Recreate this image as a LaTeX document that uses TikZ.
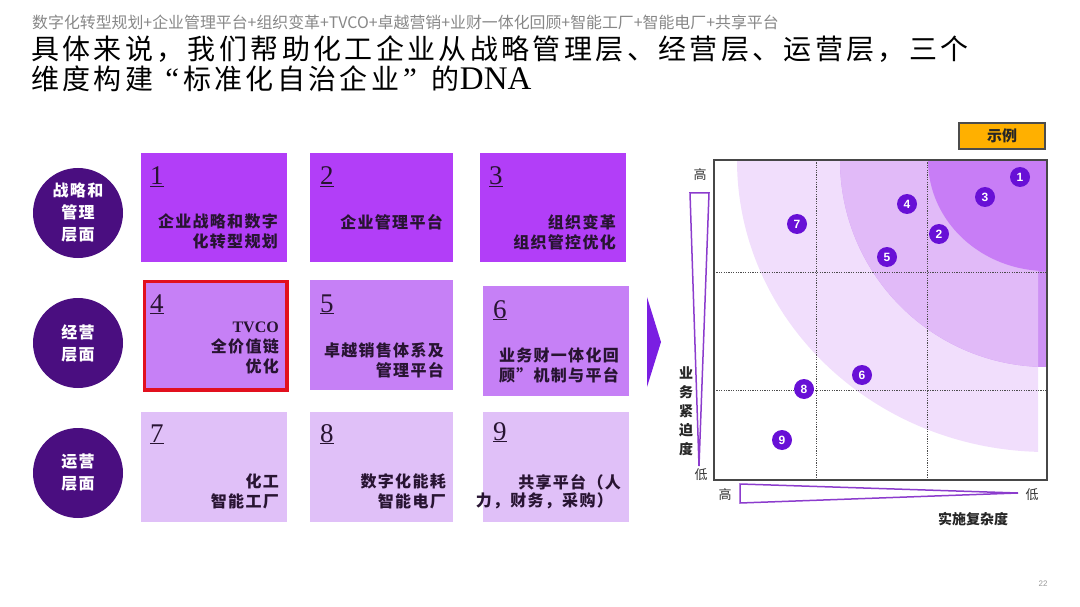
\documentclass[tikz,border=0pt]{standalone}
\usepackage{fontspec}
\setmainfont{Liberation Serif}
\newfontfamily\cjk{Noto Sans CJK SC}
\newfontfamily\cjksp[LetterSpace=8]{Noto Sans CJK SC}
\newfontfamily\cjkT[LetterSpace=12]{Noto Sans CJK SC}
\newfontfamily\numsans{Liberation Sans}
\definecolor{rowA}{RGB}{178,62,248}
\definecolor{rowB}{RGB}{198,128,246}
\definecolor{rowC}{RGB}{224,192,248}
\definecolor{lvl}{RGB}{74,14,128}
\definecolor{bub}{RGB}{104,16,214}
\definecolor{ringL}{RGB}{241,222,252}
\definecolor{ringM}{RGB}{225,186,248}
\definecolor{ringS}{RGB}{205,145,244}
\definecolor{ringD}{RGB}{200,125,246}
\definecolor{tri}{RGB}{140,60,205}
\definecolor{arrowc}{RGB}{122,30,226}
\definecolor{tagc}{RGB}{255,176,0}
\definecolor{hdr}{RGB}{135,135,135}
\definecolor{txt}{RGB}{40,20,50}
\definecolor{redb}{RGB}{226,16,30}
\tikzset{
 box/.style={rectangle, draw=none, inner sep=0, anchor=north west},
 boxtext/.style={inner sep=0, align=right, text=txt, font=\cjksp\bfseries\fontsize{16}{20}\selectfont},
 numlab/.style={inner sep=0, anchor=base west, font=\fontsize{27}{27}\selectfont, text=txt},
 lvlc/.style={circle, fill=lvl, minimum size=90, inner sep=0, text=white, align=center, font=\cjksp\bfseries\fontsize{16}{22}\selectfont},
 bubc/.style={circle, fill=bub, minimum size=20, inner sep=0, text=white, font=\numsans\bfseries\fontsize{12}{12}\selectfont},
 axlab/.style={inner sep=0, font=\cjk\fontsize{13}{13}\selectfont, text=black!80},
 gridl/.style={draw=black!70, line width=0.9, dash pattern=on 1.2 off 1.2},
 tril/.style={draw=tri, line width=1.5, fill=white},
}
\begin{document}
\begin{tikzpicture}[x=1pt,y=-1pt]
\useasboundingbox (0,0) rectangle (1080,607);
% header and title
\node[anchor=west, inner sep=0, text=hdr, font=\cjk\fontsize{15.9}{15.9}\selectfont] (hdr) at (32,22) {数字化转型规划+企业管理平台+组织变革+TVCO+卓越营销+业财一体化回顾+智能工厂+智能电厂+共享平台};
\node[anchor=west, inner sep=0, font=\cjkT\fontsize{28}{28}\selectfont] (t1) at (31,49) {具体来说，我们帮助化工企业从战略管理层、经营层、运营层，三个};
\node[anchor=west, inner sep=0, font=\cjkT\fontsize{28}{28}\selectfont] (t2) at (31,79) {维度构建\hspace{12pt}{\fontspec{Liberation Serif}\fontsize{31}{31}\selectfont“}\hspace{4pt}标准化自治企业\hspace{4pt}{\fontspec{Liberation Serif}\fontsize{31}{31}\selectfont”}\hspace{15pt}的{\fontspec{Liberation Serif}\fontsize{33}{33}\selectfont DNA}};
% level circles
\node[lvlc] (c1) at (78,213) {战略和\\管理\\层面};
\node[lvlc] (c2) at (78,343) {经营\\层面};
\node[lvlc] (c3) at (78,473) {运营\\层面};
% boxes
\node[box, fill=rowA, minimum width=146, minimum height=109] (b1) at (141,153) {};
\node[box, fill=rowA, minimum width=143, minimum height=109] (b2) at (310,153) {};
\node[box, fill=rowA, minimum width=146, minimum height=109] (b3) at (480,153) {};
\node[box, fill=rowB, draw=redb, line width=3.5, minimum width=142.5, minimum height=108.5] (b4) at (142.75,279.75) {};
\node[box, fill=rowB, minimum width=143, minimum height=110] (b5) at (310,280) {};
\node[box, fill=rowB, minimum width=146, minimum height=110] (b6) at (483,286) {};
\node[box, fill=rowC, minimum width=146, minimum height=110] (b7) at (141,412) {};
\node[box, fill=rowC, minimum width=143, minimum height=110] (b8) at (310,412) {};
\node[box, fill=rowC, minimum width=146, minimum height=110] (b9) at (483,412) {};
% numbers
\node[numlab] (n1) at (150,185) {\underline{1}};
\node[numlab] (n2) at (320,185) {\underline{2}};
\node[numlab] (n3) at (489,185) {\underline{3}};
\node[numlab] (n4) at (150,312) {\underline{4}};
\node[numlab] (n5) at (320,312) {\underline{5}};
\node[numlab] (n6) at (493,318) {\underline{6}};
\node[numlab] (n7) at (150,442) {\underline{7}};
\node[numlab] (n8) at (320,442) {\underline{8}};
\node[numlab] (n9) at (493,440) {\underline{9}};
% box texts
\node[boxtext, anchor=east] (x1) at (278,231) {企业战略和数字\\化转型规划};
\node[boxtext, anchor=east] (x2) at (443,222) {企业管理平台};
\node[boxtext, anchor=east] (x3) at (616,232) {组织变革\\组织管控优化};
\node[boxtext, anchor=east] (x4) at (279,348) {{\fontspec{Liberation Serif}TVCO}\\全价值链\\优化};
\node[boxtext, anchor=east] (x5) at (444,360) {卓越销售体系及\\管理平台};
\node[boxtext, anchor=east] (x6) at (619,365) {业务财一体化回\\顾”机制与平台};
\node[boxtext, anchor=east] (x7) at (279,491) {化工\\智能工厂};
\node[boxtext, anchor=east] (x8) at (446,491) {数字化能耗\\智能电厂};
\node[boxtext, anchor=east] (x9a) at (621,482) {共享平台（人};
\node[boxtext, anchor=east] (x9b) at (613,501) {力，财务，采购）};
% arrow
\fill[arrowc] (647,297) -- (661,342) -- (647,387) -- cycle;
% chart rings
\begin{scope}
\clip (714,160) rectangle (1038,480);
\fill[ringL] (1047,160) ellipse [x radius=310, y radius=292];
\end{scope}
\begin{scope}
\clip (714,160) rectangle (1047,480);
\fill[ringS] (1047,160) circle [radius=207];
\end{scope}
\begin{scope}
\clip (714,160) rectangle (1038,480);
\fill[ringM] (1047,160) circle [radius=207];
\end{scope}
\begin{scope}
\clip (714,160) rectangle (1047,480);
\fill[ringD] (1047,160) ellipse [x radius=119, y radius=111];
\end{scope}
% grid
\coordinate (gv1t) at (816,160); \coordinate (gv1b) at (816,480);
\coordinate (gv2t) at (927,160); \coordinate (gv2b) at (927,480);
\coordinate (gh1l) at (714,272); \coordinate (gh1r) at (1047,272);
\coordinate (gh2l) at (714,390); \coordinate (gh2r) at (1047,390);
\draw[gridl] (gv1t) -- (gv1b);
\draw[gridl] (gv2t) -- (gv2b);
\draw[gridl] (gh1l) -- (gh1r);
\draw[gridl] (gh2l) -- (gh2r);
\draw[line width=2.5, draw=black!72] (714,160) rectangle (1047,480);
% bubbles
\node[bubc] (p1) at (1020,177) {1};
\node[bubc] (p2) at (939,234) {2};
\node[bubc] (p3) at (985,197) {3};
\node[bubc] (p4) at (907,204) {4};
\node[bubc] (p5) at (887,257) {5};
\node[bubc] (p6) at (862,375) {6};
\node[bubc] (p7) at (797,224) {7};
\node[bubc] (p8) at (804,389) {8};
\node[bubc] (p9) at (782,440) {9};
% axes
\draw[tril] (690,193) -- (709,193) -- (699,466) -- cycle;
\draw[tril] (740,484) -- (740,503) -- (1018,493) -- cycle;
\node[axlab] (vh) at (700,175) {高};
\node[axlab] (vl) at (701,475) {低};
\node[axlab] (hh) at (725,495) {高};
\node[axlab] (hl) at (1032,495) {低};
\node[inner sep=0, align=center, text=black!85, font=\cjk\bfseries\fontsize{14}{19}\selectfont] (vlab) at (686,411) {业\\务\\紧\\迫\\度};
\node[inner sep=0, text=black!85, font=\cjk\bfseries\fontsize{14}{14}\selectfont] (hlab) at (973,519) {实施复杂度};
% tag
\node[draw=black!70, fill=tagc, line width=1.2, minimum width=86, minimum height=26, inner sep=0, font=\cjk\bfseries\fontsize{15}{15}\selectfont, text=black!85] (tag) at (1002,136) {示例};
% page number
\node[inner sep=0, text=black!40, font=\numsans\fontsize{8}{8}\selectfont] (pg) at (1043,584) {22};
\end{tikzpicture}
\end{document}
